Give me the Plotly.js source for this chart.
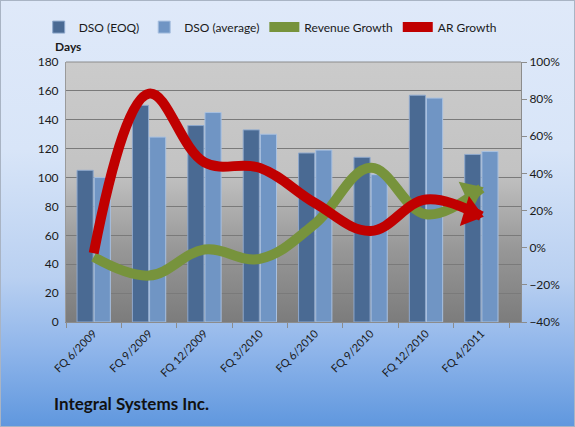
<!DOCTYPE html>
<html><head><meta charset="utf-8">
<script src="https://cdn.plot.ly/plotly-3.0.1.min.js"></script>
<style>
html,body{margin:0;padding:0;}
#wrap{width:575px;height:427px;background:linear-gradient(to bottom,#dfe9f9 0%,#d8e5f8 35%,#b9d0f1 65%,#8fb5ea 82%,#5f97de 100%);outline:1px solid #a9b4c4;outline-offset:-1px;}
#chart{width:575px;height:427px;}
</style></head>
<body><div id="wrap"><div id="chart"></div></div>
<script>
const categories = ["FQ 6/2009","FQ 9/2009","FQ 12/2009","FQ 3/2010","FQ 6/2010","FQ 9/2010","FQ 12/2010","FQ 4/2011"];
const dsoEOQ = [105,150,136,133,117,114,157,116];
const dsoAvg = [100,128,145,130,119,102,155,118];
const revenueGrowth = [-5,-15,-1,-6,13,43,18,32];
const arGrowth = [-3,83,46,43,24,9,26,17];
const title = "Integral Systems Inc.";

const bgSvg = '<svg xmlns="http://www.w3.org/2000/svg" width="10" height="100" preserveAspectRatio="none"><defs><linearGradient id="g" x1="0" y1="0" x2="0" y2="1"><stop offset="0" stop-color="#cbcbcb"/><stop offset="0.42" stop-color="#c3c3c3"/><stop offset="0.72" stop-color="#979797"/><stop offset="1" stop-color="#7c7c7c"/></linearGradient></defs><rect width="10" height="100" fill="url(#g)"/></svg>';
const bgUri = 'data:image/svg+xml;base64,' + btoa(bgSvg);

const n = categories.length;
const GREEN = '#77933c', RED = '#c00000';

const traces = [
  {type:'bar', name:'DSO (EOQ)', x:categories, y:dsoEOQ,
   marker:{color:'#4a6a93', line:{color:'#8ea8cc', width:1}}},
  {type:'bar', name:'DSO (average)', x:categories, y:dsoAvg,
   marker:{color:'#7095c4', line:{color:'#a8c0e0', width:1}}},
  {type:'scatter', mode:'lines', name:'Revenue Growth', x:categories, y:revenueGrowth, yaxis:'y2',
   line:{color:GREEN, width:10, shape:'spline', smoothing:1.1}},
  {type:'scatter', mode:'lines', name:'AR Growth', x:categories, y:arGrowth, yaxis:'y2',
   line:{color:RED, width:10, shape:'spline', smoothing:1.1}},
  {type:'scatter', mode:'markers', showlegend:false, x:[categories[n-1]], y:[revenueGrowth[n-1]], yaxis:'y2',
   marker:{symbol:'triangle-up', size:27, angle:0, standoff:11, color:GREEN, line:{width:0}}},
  {type:'scatter', mode:'markers', showlegend:false, x:[categories[n-1]], y:[arGrowth[n-1]], yaxis:'y2',
   marker:{symbol:'triangle-up', size:27, angle:0, standoff:11, color:RED, line:{width:0}}}
];

const font = {family:'Lato, "Open Sans", sans-serif', size:11, color:'#1a1a1a'};
const layout = {
  width:575, height:427,
  margin:{l:66, r:54, t:62, b:105},
  paper_bgcolor:'rgba(0,0,0,0)', plot_bgcolor:'rgba(0,0,0,0)',
  font:font,
  barmode:'group', bargap:0.38, bargroupgap:0.06,
  showlegend:true,
  legend:{orientation:'h', x:-0.06, y:1.19, xanchor:'left', yanchor:'top', font:{family:font.family,size:12,color:'#1a1a1a'}, bgcolor:'rgba(0,0,0,0)', itemwidth:30, traceorder:'normal'},
  xaxis:{type:'category', tickangle:-45, tickson:'boundaries', ticks:'outside', ticklen:5, tickcolor:'#8c8c8c',
         showline:true, linecolor:'#8c8c8c', linewidth:1, showgrid:false, tickfont:{family:font.family,size:11,color:'#1a1a1a'}},
  yaxis:{range:[0,180], dtick:20, showgrid:true, gridcolor:'#7a7a7a', gridwidth:1, zeroline:false, showline:true, linecolor:'#9a9a9a',
         ticks:'', tickfont:{family:font.family,size:12,color:'#1a1a1a'}, ticklabelstandoff:4},
  yaxis2:{overlaying:'y', side:'right', range:[-40,100], dtick:20, ticksuffix:'%', showgrid:false, zeroline:false,
          showline:true, linecolor:'#8c8c8c', ticks:'outside', ticklen:5, tickcolor:'#8c8c8c', tickfont:{family:font.family,size:12,color:'#1a1a1a'}},
  images:[{source:bgUri, xref:'paper', yref:'paper', x:0, y:1, sizex:1, sizey:1, sizing:'stretch', xanchor:'left', yanchor:'top', layer:'below'}],
  shapes:[{type:'line', xref:'paper', yref:'paper', x0:0, x1:1, y0:1, y1:1, line:{color:'#8c8c8c', width:1}}],
  annotations:[
    {text:'<b>Days</b>', xref:'paper', yref:'paper', x:0.005, y:1.025, xanchor:'center', yanchor:'bottom', showarrow:false, font:{family:font.family,size:12,color:'#1a1a1a'}},
    {text:'<b>'+title+'</b>', xref:'paper', yref:'paper', x:-0.03, y:-0.315, xanchor:'left', yanchor:'middle', showarrow:false, font:{family:font.family,size:17,color:'#111111'}}
  ]
};
const gd = document.getElementById('chart');
Plotly.newPlot(gd, traces, layout, {displayModeBar:false, staticPlot:true}).then(function(){
  const xa = gd._fullLayout.xaxis, ya = gd._fullLayout.yaxis2;
  function ang(vals){
    const dx = xa.l2p(n-1) - xa.l2p(n-2);
    const dy = ya.l2p(vals[n-1]) - ya.l2p(vals[n-2]);
    return Math.atan2(dx, -dy) * 180 / Math.PI;
  }
  return Plotly.restyle(gd, {'marker.angle':[ang(revenueGrowth), ang(arGrowth)]}, [4,5]);
});
</script></body></html>
